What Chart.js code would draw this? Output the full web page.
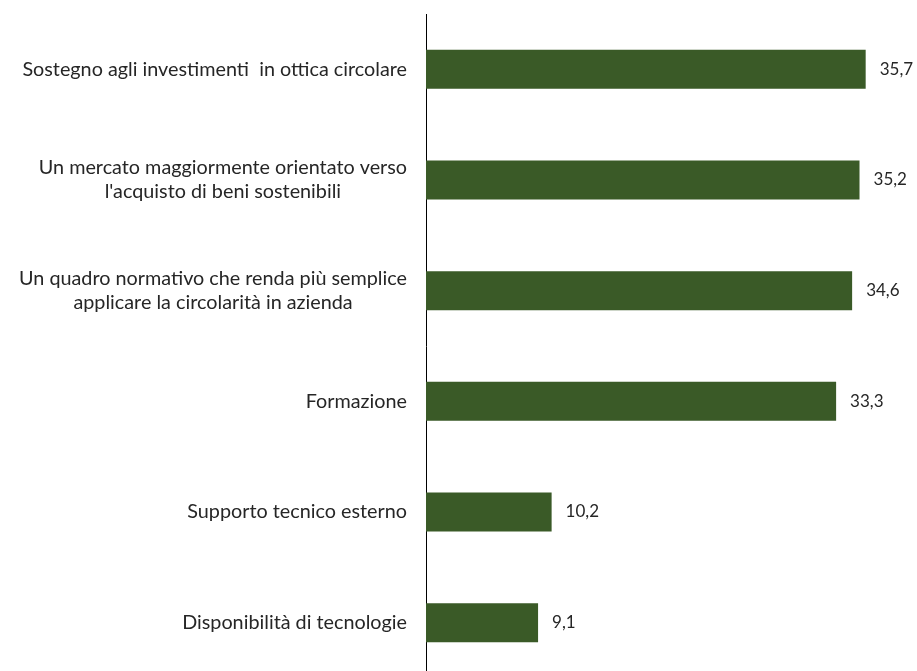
<!DOCTYPE html>
<html>
<head>
<meta charset="utf-8">
<script src="https://cdn.jsdelivr.net/npm/chart.js@4"></script>
<style>
  html, body { margin: 0; padding: 0; background: #fff; overflow: hidden; }
  #wrap { width: 917px; height: 680px; }
</style>
</head>
<body>
<div id="wrap"><canvas id="barChart"></canvas></div>
<script>
const categories = [
  ['Sostegno agli investimenti  in ottica circolare'],
  ['Un mercato maggiormente orientato verso', "l'acquisto di beni sostenibili"],
  ['Un quadro normativo che renda più semplice', 'applicare la circolarità in azienda'],
  ['Formazione'],
  ['Supporto tecnico esterno'],
  ['Disponibilità di tecnologie']
];
const values = [35.7, 35.2, 34.6, 33.3, 10.2, 9.1];

const FONT = 'Lato, "Open Sans", sans-serif';

// category labels: block right-aligned at the axis, lines centred on each other
const catLabels = {
  id: 'catLabels',
  afterDraw(chart) {
    const ctx = chart.ctx;
    const y = chart.scales.y;
    ctx.save();
    ctx.font = '19.8px ' + FONT;
    ctx.fillStyle = '#262626';
    ctx.textBaseline = 'middle';
    ctx.textAlign = 'center';
    const lineH = 24;
    categories.forEach((lines, i) => {
      const widest = Math.max(...lines.map(l => ctx.measureText(l).width));
      const cx = y.right - 19 - widest / 2;
      const cy = y.getPixelForTick(i);
      lines.forEach((l, j) => {
        ctx.fillText(l, cx, cy + (j - (lines.length - 1) / 2) * lineH);
      });
    });
    ctx.restore();
  }
};

// value labels at the end of each bar
const valueLabels = {
  id: 'valueLabels',
  afterDatasetsDraw(chart) {
    const ctx = chart.ctx;
    const meta = chart.getDatasetMeta(0);
    ctx.save();
    ctx.font = '17px ' + FONT;
    ctx.fillStyle = '#262626';
    ctx.textBaseline = 'middle';
    ctx.textAlign = 'left';
    meta.data.forEach((bar, i) => {
      ctx.fillText(values[i].toFixed(1).replace('.', ','), bar.x + 14, bar.y);
    });
    ctx.restore();
  }
};

new Chart(document.getElementById('barChart'), {
  type: 'bar',
  data: {
    labels: categories,
    datasets: [{
      data: values,
      backgroundColor: '#3A5A27',
      borderWidth: 0,
      categoryPercentage: 1,
      barPercentage: 0.353
    }]
  },
  options: {
    indexAxis: 'y',
    responsive: true,
    maintainAspectRatio: false,
    animation: false,
    layout: { padding: { top: 14, right: 23, bottom: 2, left: 0 } },
    plugins: { legend: { display: false }, tooltip: { enabled: false } },
    scales: {
      x: {
        min: 0,
        max: 38,
        display: false
      },
      y: {
        grid: { display: false, drawTicks: false },
        border: { display: true, color: '#000', width: 1 },
        ticks: { display: false },
        afterFit(scale) { scale.width = 426; }
      }
    }
  },
  plugins: [catLabels, valueLabels]
});
</script>
</body>
</html>
